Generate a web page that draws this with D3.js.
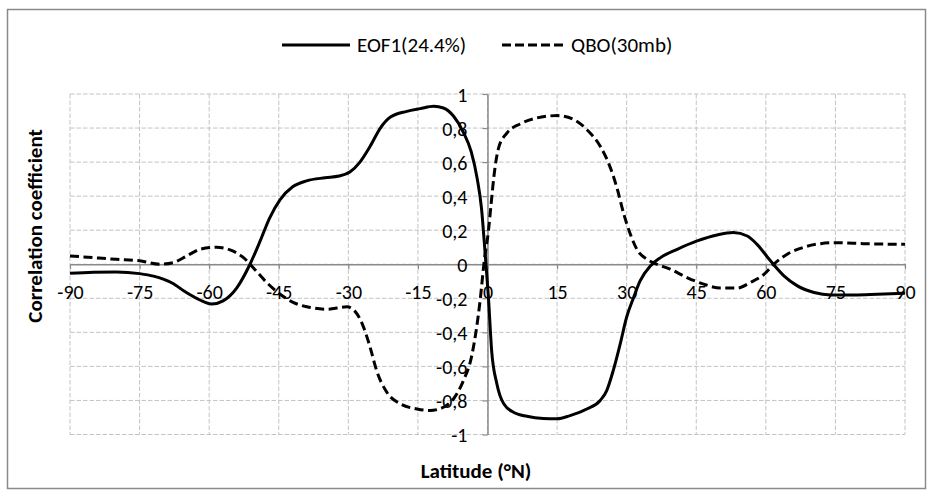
<!DOCTYPE html>
<html>
<head>
<meta charset="utf-8">
<script src="https://cdn.jsdelivr.net/npm/d3@7"></script>
<style>
  html, body { margin: 0; padding: 0; background: #fff; }
  svg { display: block; }
  text { font-family: Carlito, "Open Sans", sans-serif; fill: #000; }
</style>
</head>
<body>
<svg id="chart" width="933" height="496"></svg>
<script>
// Latitude grid and correlation values of the leading EOF
const eofLat = [-90, -85, -80, -75, -72, -68, -65, -62, -59.5, -57, -54, -51.2, -49, -47, -44.7, -42, -39, -35, -32, -29.6, -27.5, -25.3, -23.1, -21, -17.4, -14.5, -11.6, -9.5, -7.3, -5.2, -3.5, -2.2, -1.3, -0.5, 0.2, 0.9, 2, 3.5, 5.6, 8.5, 12, 15, 17.8, 21.4, 24.3, 25.7, 27.1, 28.6, 30, 31.5, 32.9, 35.1, 37.3, 40.9, 45.2, 49.5, 53, 56, 58.1, 61, 63.9, 66.8, 70.4, 74, 79, 84, 90];
const eofVal = [-0.053, -0.047, -0.045, -0.055, -0.07, -0.11, -0.165, -0.21, -0.234, -0.215, -0.137, 0, 0.137, 0.27, 0.38, 0.455, 0.49, 0.508, 0.518, 0.543, 0.6, 0.693, 0.8, 0.863, 0.898, 0.914, 0.928, 0.918, 0.869, 0.775, 0.66, 0.5, 0.33, 0.06, -0.195, -0.51, -0.7, -0.82, -0.869, -0.893, -0.906, -0.908, -0.889, -0.85, -0.8, -0.742, -0.625, -0.469, -0.31, -0.195, -0.098, -0.01, 0.039, 0.088, 0.137, 0.172, 0.186, 0.166, 0.117, 0.02, -0.068, -0.127, -0.166, -0.18, -0.18, -0.176, -0.17];

// Latitude grid and correlation values of the 30 mb QBO
const qboLat = [-90, -85, -80, -75, -70.6, -67.7, -64.8, -62, -58.4, -55.5, -52.6, -50.5, -47.6, -44.7, -41.8, -38.2, -34.6, -30.3, -28.1, -26.7, -25.3, -23.9, -21.7, -18.8, -15.2, -12.4, -9.5, -7.3, -5.2, -3.5, -2.5, -1.6, -0.7, 0.2, 0.8, 1.4, 2.4, 4.2, 7, 10.6, 15, 18.6, 21.4, 24.3, 26.5, 27.9, 29.4, 30.8, 32.2, 34.4, 36.5, 39.4, 43, 46.6, 50.2, 53.8, 56.7, 59.6, 61.7, 64.6, 68.2, 71.8, 75.4, 81.1, 90];
const qboVal = [0.049, 0.039, 0.029, 0.02, 0, 0.01, 0.049, 0.088, 0.1, 0.084, 0.039, -0.02, -0.107, -0.176, -0.225, -0.254, -0.264, -0.25, -0.293, -0.371, -0.488, -0.625, -0.752, -0.82, -0.85, -0.859, -0.84, -0.79, -0.684, -0.55, -0.4, -0.215, 0.02, 0.195, 0.36, 0.52, 0.684, 0.771, 0.824, 0.859, 0.873, 0.85, 0.791, 0.693, 0.566, 0.449, 0.293, 0.176, 0.088, 0.029, 0, -0.029, -0.078, -0.117, -0.14, -0.14, -0.107, -0.059, 0, 0.059, 0.1, 0.121, 0.127, 0.121, 0.117];

// Axis ticks
const latTicks = [-90, -75, -60, -45, -30, -15, 0, 15, 30, 45, 60, 75, 90];
const corrTicks = [-1, -0.8, -0.6, -0.4, -0.2, 0, 0.2, 0.4, 0.6, 0.8, 1];

// Series names
const seriesNames = ["EOF1(24.4%)", "QBO(30mb)"];

const svg = d3.select("#chart");

// Outer chart frame
svg.append("rect")
  .attr("x", 7.5).attr("y", 9.5)
  .attr("width", 918).attr("height", 479)
  .attr("fill", "#fff").attr("stroke", "#8a8a8a").attr("stroke-width", 1.5);

const x = d3.scaleLinear().domain([-90, 90]).range([70, 905]);
const y = d3.scaleLinear().domain([-1, 1]).range([434.5, 94]);

// Dashed gridlines
const grid = svg.append("g").attr("stroke", "#c3c3c3").attr("stroke-width", 1)
  .attr("stroke-dasharray", "4.5,2").attr("fill", "none");
grid.selectAll("line.v").data(latTicks).join("line")
  .attr("class", "v")
  .attr("x1", d => x(d)).attr("x2", d => x(d))
  .attr("y1", y(1)).attr("y2", y(-1));
grid.selectAll("line.h").data(corrTicks).join("line")
  .attr("class", "h")
  .attr("x1", x(-90)).attr("x2", x(90))
  .attr("y1", d => y(d)).attr("y2", d => y(d));

// Decimal comma for the correlation labels
const fmt = d => String(d).replace(".", ",");

// Horizontal axis through zero correlation
const xAxis = svg.append("g")
  .attr("transform", `translate(0,${y(0)})`)
  .call(d3.axisBottom(x).tickValues(latTicks).tickSize(5).tickSizeOuter(0).tickFormat(d => String(d)));
xAxis.select(".domain").attr("stroke", "#8a8a8a").attr("stroke-width", 1.5);
xAxis.selectAll(".tick line").attr("stroke", "#8a8a8a").attr("stroke-width", 1.2);
xAxis.selectAll(".tick text")
  .attr("y", 27.5).attr("dy", "0.35em")
  .style("font-size", "20px").style("fill", "#000");

// Vertical axis through the equator
const yAxis = svg.append("g")
  .attr("transform", `translate(${x(0)},0)`)
  .call(d3.axisLeft(y).tickValues(corrTicks).tickSize(5).tickSizeOuter(0).tickFormat(fmt));
yAxis.select(".domain").attr("stroke", "#8a8a8a").attr("stroke-width", 1.5);
yAxis.selectAll(".tick line").attr("stroke", "#8a8a8a").attr("stroke-width", 1.2);
yAxis.selectAll(".tick text")
  .attr("x", -20).attr("dy", "0.35em")
  .style("font-size", "20px").style("fill", "#000");

// Curves
const line = d3.line()
  .x(d => x(d[0])).y(d => y(d[1]))
  .curve(d3.curveMonotoneX);

const eof = eofLat.map((d, i) => [d, eofVal[i]]);
const qbo = qboLat.map((d, i) => [d, qboVal[i]]);

svg.append("path").datum(eof)
  .attr("d", line).attr("fill", "none")
  .attr("stroke", "#000").attr("stroke-width", 3).attr("stroke-linejoin", "round");
svg.append("path").datum(qbo)
  .attr("d", line).attr("fill", "none")
  .attr("stroke", "#000").attr("stroke-width", 3).attr("stroke-dasharray", "9,4.5");

// Legend
const legend = svg.append("g");
const legendItems = [
  { name: seriesNames[0], x1: 282, x2: 350, dash: null },
  { name: seriesNames[1], x1: 502, x2: 564, dash: "9,4" }
];
legendItems.forEach(it => {
  legend.append("line")
    .attr("x1", it.x1).attr("x2", it.x2).attr("y1", 45).attr("y2", 45)
    .attr("stroke", "#000").attr("stroke-width", 3)
    .attr("stroke-dasharray", it.dash);
  legend.append("text")
    .attr("x", it.x2 + 7).attr("y", 45).attr("dy", "0.35em")
    .style("font-size", "21px")
    .text(it.name);
});

// Axis titles
svg.append("text")
  .attr("x", 476).attr("y", 471).attr("dy", "0.35em")
  .attr("text-anchor", "middle")
  .style("font-size", "21px").style("font-weight", "bold")
  .text("Latitude (°N)");

svg.append("text")
  .attr("transform", "translate(35,226) rotate(-90)")
  .attr("dy", "0.35em")
  .attr("text-anchor", "middle")
  .style("font-size", "21px").style("font-weight", "bold")
  .text("Correlation coefficient");
</script>
</body>
</html>
